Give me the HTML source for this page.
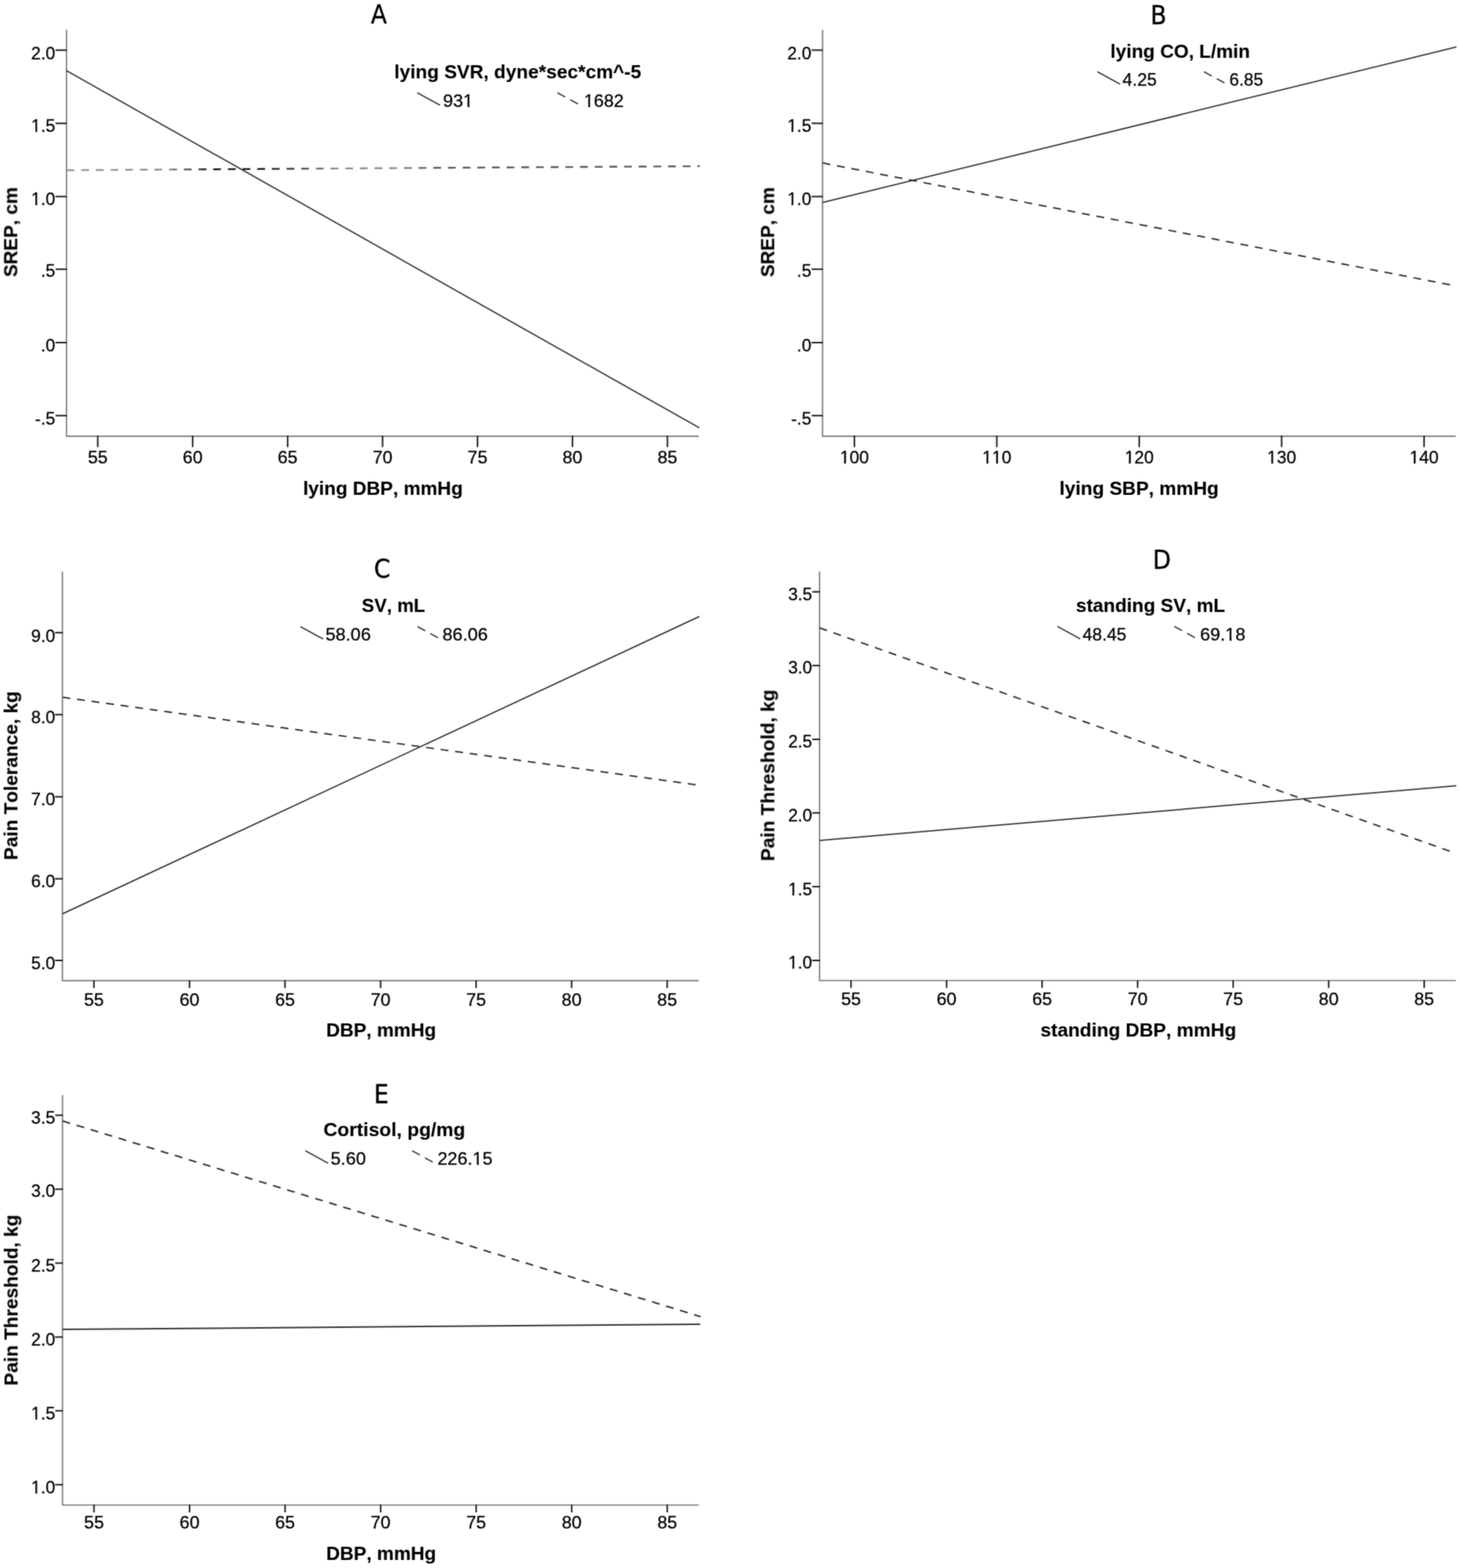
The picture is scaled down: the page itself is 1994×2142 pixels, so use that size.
<!DOCTYPE html>
<html lang="en">
<head>
<meta charset="utf-8">
<title>Interaction plots A-E</title>
<style>
html,body{margin:0;padding:0;background:#fff;}
body{width:1994px;height:2142px;overflow:hidden;}
svg{display:block;}
svg text{font-family:"Liberation Sans",Arial,Helvetica,sans-serif;fill:#000;font-kerning:none;stroke:#000;stroke-width:.32px;stroke-linejoin:round;}
svg text[font-weight]{stroke-width:.15px;}
svg text.ttl{font-family:"DejaVu Sans Condensed","Liberation Sans",sans-serif;stroke:#000;stroke-width:.4px;}
</style>
</head>
<body>
<svg width="1994" height="2142" viewBox="0 0 1994 2142">
<rect width="1994" height="2142" fill="#fff"/>
<defs>
<filter id="soft" filterUnits="userSpaceOnUse" x="0" y="0" width="1994" height="2142" color-interpolation-filters="sRGB">
<feConvolveMatrix order="3" kernelMatrix="0.03 0.12 0.03 0.12 0.4 0.12 0.03 0.12 0.03" edgeMode="duplicate" preserveAlpha="false"/>
</filter>
<linearGradient id="ga" gradientUnits="userSpaceOnUse" x1="90" y1="0" x2="955" y2="0"><stop offset="0" stop-color="#959595"/><stop offset=".15" stop-color="#8e8e8e"/><stop offset=".185" stop-color="#666"/><stop offset=".21" stop-color="#2a2a2a"/><stop offset=".23" stop-color="#161616"/><stop offset=".31" stop-color="#161616"/><stop offset=".36" stop-color="#3a3a3a"/><stop offset=".39" stop-color="#5a5a5a"/><stop offset=".42" stop-color="#8a8a8a"/><stop offset=".53" stop-color="#8a8a8a"/><stop offset=".57" stop-color="#5a5a5a"/><stop offset="1" stop-color="#555"/></linearGradient>
<clipPath id="c0"><path clip-rule="evenodd" d="M-4 -24.8H38.47V8H-4ZM0.09 -2.4H6.04V3H0.09ZM8.63 -2.4H14.38V3H8.63Z"/></clipPath>
<clipPath id="c1"><path clip-rule="evenodd" d="M-4 -24.8H45.37V8H-4ZM27.67 -2.4H33.62V3H27.67ZM36.21 -2.4H41.96V3H36.21Z"/></clipPath>
<clipPath id="c2"><path clip-rule="evenodd" d="M-4 -24.8H59.16V8H-4ZM0.09 -2.4H6.04V3H0.09ZM8.63 -2.4H14.38V3H8.63Z"/></clipPath>
<clipPath id="c3"><path clip-rule="evenodd" d="M-4 -24.8H45.37V8H-4ZM0.09 -2.4H6.04V3H0.09ZM8.63 -2.4H14.38V3H8.63Z"/></clipPath>
<clipPath id="c4"><path clip-rule="evenodd" d="M-4 -24.8H45.37V8H-4ZM0.09 -2.4H6.04V3H0.09ZM8.63 -2.4H14.38V3H8.63ZM14.38 -2.4H19.83V3H14.38ZM22.42 -2.4H28.17V3H22.42Z"/></clipPath>
<clipPath id="c5"><path clip-rule="evenodd" d="M-4 -24.8H66.05V8H-4ZM34.56 -2.4H40.51V3H34.56ZM43.1 -2.4H48.85V3H43.1Z"/></clipPath>
<clipPath id="c6"><path clip-rule="evenodd" d="M-4 -24.8H79.84V8H-4ZM48.35 -2.4H54.3V3H48.35ZM56.89 -2.4H62.64V3H56.89Z"/></clipPath>
</defs>
<g filter="url(#soft)">
<g>
<path d="M90.8 40.8V595.8H954.5" fill="none" stroke="#707070" stroke-width="1.7"/>
<path d="M91.3 68.45h-15.4M91.3 168.45h-15.4M91.3 268.45h-15.4M91.3 367.75h-15.4M91.3 467.9h-15.4M91.3 567.75h-15.4M133.5 595.3v15.4M263.17 595.3v15.4M392.84 595.3v15.4M522.51 595.3v15.4M652.18 595.3v15.4M781.85 595.3v15.4M911.52 595.3v15.4" fill="none" stroke="#161616" stroke-width="2"/>
<text transform="translate(42.58 81.25) scale(0.9550 1)" font-size="24.8">2.0</text>
<text transform="translate(42.58 179.65) scale(0.9550 1)" font-size="24.8" clip-path="url(#c0)">1.5</text>
<text transform="translate(42.58 280.35) scale(0.9550 1)" font-size="24.8" clip-path="url(#c0)">1.0</text>
<text transform="translate(55.75 378.45) scale(0.9550 1)" font-size="24.8">.5</text>
<text transform="translate(55.75 479.65) scale(0.9550 1)" font-size="24.8">.0</text>
<text transform="translate(47.86 579.85) scale(0.9550 1)" font-size="24.8">-.5</text>
<text transform="translate(119.92 633.25) scale(0.9850 1)" font-size="24.8">55</text>
<text transform="translate(249.59 633.25) scale(0.9850 1)" font-size="24.8">60</text>
<text transform="translate(379.26 633.25) scale(0.9850 1)" font-size="24.8">65</text>
<text transform="translate(508.93 633.25) scale(0.9850 1)" font-size="24.8">70</text>
<text transform="translate(638.6 633.25) scale(0.9850 1)" font-size="24.8">75</text>
<text transform="translate(768.27 633.25) scale(0.9850 1)" font-size="24.8">80</text>
<text transform="translate(897.94 633.25) scale(0.9850 1)" font-size="24.8">85</text>
<line x1="90.8" y1="96.5" x2="955.3" y2="584.6" stroke="#303030" stroke-width="1.75"/>
<line x1="90.8" y1="232.5" x2="955.6" y2="227" stroke="url(#ga)" stroke-width="2.4" stroke-dasharray="10.6 9.44"/>
<text x="506.6" y="31.9" font-size="35.6" class="ttl">A</text>
<text transform="translate(538.5 107.15) scale(1.0044 1)" font-size="26" font-weight="bold">lying SVR, dyne*sec*cm^-5</text>
<line x1="569.9" y1="126.7" x2="601" y2="143.7" stroke="#303030" stroke-width="1.7"/>
<text transform="translate(605 145.85)" font-size="24.8" clip-path="url(#c1)">931</text>
<line x1="761.3" y1="126.7" x2="792.4" y2="143.7" stroke="#303030" stroke-width="1.7" stroke-dasharray="12 8"/>
<text transform="translate(797.51 145.85) scale(0.9874 1)" font-size="24.8" clip-path="url(#c2)">1682</text>
<text transform="translate(413.9 675.85)" font-size="26" font-weight="bold">lying DBP, mmHg</text>
<text transform="translate(23.55 378.5) rotate(-90)" font-size="26" font-weight="bold">SREP, cm</text>
</g>
<g>
<path d="M1123.4 40.8V595.8H1988.2" fill="none" stroke="#707070" stroke-width="1.7"/>
<path d="M1123.9 68.45h-15.4M1123.9 168.45h-15.4M1123.9 268.45h-15.4M1123.9 367.75h-15.4M1123.9 467.9h-15.4M1123.9 567.75h-15.4M1166.9 595.3v15.4M1361.4 595.3v15.4M1555.9 595.3v15.4M1750.4 595.3v15.4M1944.9 595.3v15.4" fill="none" stroke="#161616" stroke-width="2"/>
<text transform="translate(1075.18 81.25) scale(0.9550 1)" font-size="24.8">2.0</text>
<text transform="translate(1075.18 179.65) scale(0.9550 1)" font-size="24.8" clip-path="url(#c0)">1.5</text>
<text transform="translate(1075.18 280.35) scale(0.9550 1)" font-size="24.8" clip-path="url(#c0)">1.0</text>
<text transform="translate(1088.35 378.45) scale(0.9550 1)" font-size="24.8">.5</text>
<text transform="translate(1088.35 479.65) scale(0.9550 1)" font-size="24.8">.0</text>
<text transform="translate(1080.46 579.85) scale(0.9550 1)" font-size="24.8">-.5</text>
<text transform="translate(1146.94 633.25) scale(0.9650 1)" font-size="24.8" clip-path="url(#c3)">100</text>
<text transform="translate(1341.44 633.25) scale(0.9650 1)" font-size="24.8" clip-path="url(#c4)">110</text>
<text transform="translate(1535.94 633.25) scale(0.9650 1)" font-size="24.8" clip-path="url(#c3)">120</text>
<text transform="translate(1730.44 633.25) scale(0.9650 1)" font-size="24.8" clip-path="url(#c3)">130</text>
<text transform="translate(1924.94 633.25) scale(0.9650 1)" font-size="24.8" clip-path="url(#c3)">140</text>
<line x1="1123.4" y1="276.6" x2="1989.1" y2="64.2" stroke="#303030" stroke-width="1.75"/>
<line x1="1123.4" y1="222.6" x2="1988.2" y2="390.6" stroke="#303030" stroke-width="2.0" stroke-dasharray="10.8 9.25"/>
<text x="1571.2" y="33" font-size="35.6" class="ttl">B</text>
<text transform="translate(1516.5 78.95)" font-size="26" font-weight="bold">lying CO, L/min</text>
<line x1="1498.8" y1="98" x2="1529.9" y2="115" stroke="#303030" stroke-width="1.7"/>
<text transform="translate(1533.1 116.95) scale(0.9711 1)" font-size="24.8">4.25</text>
<line x1="1644.3" y1="98" x2="1675.4" y2="115" stroke="#303030" stroke-width="1.7" stroke-dasharray="12 8"/>
<text transform="translate(1678.94 116.95) scale(0.9576 1)" font-size="24.8">6.85</text>
<text transform="translate(1447 675.55) scale(1.0041 1)" font-size="26" font-weight="bold">lying SBP, mmHg</text>
<text transform="translate(1057.35 378.5) rotate(-90)" font-size="26" font-weight="bold">SREP, cm</text>
</g>
<g>
<path d="M85.3 781.1V1339.7H954.3" fill="none" stroke="#707070" stroke-width="1.7"/>
<path d="M85.8 864.2h-10.5M85.8 976.3h-10.5M85.8 1088.45h-10.5M85.8 1200.6h-10.5M85.8 1312h-10.5M128.3 1339.2v10.5M258.78 1339.2v10.5M389.26 1339.2v10.5M519.74 1339.2v10.5M650.22 1339.2v10.5M780.7 1339.2v10.5M911.18 1339.2v10.5" fill="none" stroke="#161616" stroke-width="2"/>
<text transform="translate(42.58 877.4) scale(0.9550 1)" font-size="24.8">9.0</text>
<text transform="translate(42.58 987.55) scale(0.9550 1)" font-size="24.8">8.0</text>
<text transform="translate(42.58 1099.95) scale(0.9550 1)" font-size="24.8">7.0</text>
<text transform="translate(42.58 1211.9) scale(0.9550 1)" font-size="24.8">6.0</text>
<text transform="translate(42.58 1323.85) scale(0.9550 1)" font-size="24.8">5.0</text>
<text transform="translate(114.72 1373.55) scale(0.9850 1)" font-size="24.8">55</text>
<text transform="translate(245.2 1373.55) scale(0.9850 1)" font-size="24.8">60</text>
<text transform="translate(375.68 1373.55) scale(0.9850 1)" font-size="24.8">65</text>
<text transform="translate(506.16 1373.55) scale(0.9850 1)" font-size="24.8">70</text>
<text transform="translate(636.64 1373.55) scale(0.9850 1)" font-size="24.8">75</text>
<text transform="translate(767.12 1373.55) scale(0.9850 1)" font-size="24.8">80</text>
<text transform="translate(897.6 1373.55) scale(0.9850 1)" font-size="24.8">85</text>
<line x1="85.3" y1="1248.4" x2="955.2" y2="842.1" stroke="#303030" stroke-width="1.75"/>
<line x1="85.3" y1="952.5" x2="954.3" y2="1072.6" stroke="#303030" stroke-width="2.0" stroke-dasharray="10.8 9.25"/>
<text x="510.8" y="789.3" font-size="35.6" class="ttl">C</text>
<text transform="translate(494.1 836.35) scale(0.9836 1)" font-size="26" font-weight="bold">SV, mL</text>
<line x1="410.3" y1="855.9" x2="441.4" y2="872.9" stroke="#303030" stroke-width="1.7"/>
<text transform="translate(444.4 875.05)" font-size="24.8">58.06</text>
<line x1="570.2" y1="855.9" x2="601.3" y2="872.9" stroke="#303030" stroke-width="1.7" stroke-dasharray="12 8"/>
<text transform="translate(604.3 875.05)" font-size="24.8">86.06</text>
<text transform="translate(445.4 1416.05)" font-size="26" font-weight="bold">DBP, mmHg</text>
<text transform="translate(23.85 1174.9) rotate(-90) scale(1.0050 1)" font-size="26" font-weight="bold">Pain Tolerance, kg</text>
</g>
<g>
<path d="M1119.35 781.1V1339.5H1988.4" fill="none" stroke="#707070" stroke-width="1.7"/>
<path d="M1119.85 808.55h-10.5M1119.85 909.24h-10.5M1119.85 1009.93h-10.5M1119.85 1110.62h-10.5M1119.85 1211.31h-10.5M1119.85 1312h-10.5M1162.3 1339v10.5M1292.77 1339v10.5M1423.24 1339v10.5M1553.71 1339v10.5M1684.18 1339v10.5M1814.65 1339v10.5M1945.12 1339v10.5" fill="none" stroke="#161616" stroke-width="2"/>
<text transform="translate(1076.38 820.2) scale(0.9550 1)" font-size="24.8">3.5</text>
<text transform="translate(1076.38 920.39) scale(0.9550 1)" font-size="24.8">3.0</text>
<text transform="translate(1076.38 1021.28) scale(0.9550 1)" font-size="24.8">2.5</text>
<text transform="translate(1076.38 1121.97) scale(0.9550 1)" font-size="24.8">2.0</text>
<text transform="translate(1076.38 1222.66) scale(0.9550 1)" font-size="24.8" clip-path="url(#c0)">1.5</text>
<text transform="translate(1076.38 1323.35) scale(0.9550 1)" font-size="24.8" clip-path="url(#c0)">1.0</text>
<text transform="translate(1148.72 1372.95) scale(0.9850 1)" font-size="24.8">55</text>
<text transform="translate(1279.19 1372.95) scale(0.9850 1)" font-size="24.8">60</text>
<text transform="translate(1409.66 1372.95) scale(0.9850 1)" font-size="24.8">65</text>
<text transform="translate(1540.13 1372.95) scale(0.9850 1)" font-size="24.8">70</text>
<text transform="translate(1670.6 1372.95) scale(0.9850 1)" font-size="24.8">75</text>
<text transform="translate(1801.07 1372.95) scale(0.9850 1)" font-size="24.8">80</text>
<text transform="translate(1931.54 1372.95) scale(0.9850 1)" font-size="24.8">85</text>
<line x1="1119.35" y1="1148.2" x2="1989.1" y2="1073.4" stroke="#303030" stroke-width="1.75"/>
<line x1="1119.35" y1="857.7" x2="1988.4" y2="1165.7" stroke="#303030" stroke-width="2.0" stroke-dasharray="10.8 9.25"/>
<text x="1574.4" y="776.7" font-size="35.6" class="ttl">D</text>
<text transform="translate(1469.5 836.15)" font-size="26" font-weight="bold">standing SV, mL</text>
<line x1="1444.2" y1="855.7" x2="1475.3" y2="872.7" stroke="#303030" stroke-width="1.7"/>
<text transform="translate(1478.5 875.25) scale(0.9663 1)" font-size="24.8">48.45</text>
<line x1="1603.8" y1="855.7" x2="1634.9" y2="872.7" stroke="#303030" stroke-width="1.7" stroke-dasharray="12 8"/>
<text transform="translate(1638.9 875.25)" font-size="24.8" clip-path="url(#c5)">69.18</text>
<text transform="translate(1421 1415.75) scale(1.0064 1)" font-size="26" font-weight="bold">standing DBP, mmHg</text>
<text transform="translate(1057.55 1176.31) rotate(-90) scale(1.0078 1)" font-size="26" font-weight="bold">Pain Threshold, kg</text>
</g>
<g>
<path d="M85.4 1495.9V2056H954.3" fill="none" stroke="#707070" stroke-width="1.7"/>
<path d="M85.9 1523.5h-10.5M85.9 1624.46h-10.5M85.9 1725.42h-10.5M85.9 1826.38h-10.5M85.9 1927.34h-10.5M85.9 2028.3h-10.5M128.4 2055.5v10.5M258.88 2055.5v10.5M389.36 2055.5v10.5M519.84 2055.5v10.5M650.32 2055.5v10.5M780.8 2055.5v10.5M911.28 2055.5v10.5" fill="none" stroke="#161616" stroke-width="2"/>
<text transform="translate(42.58 1534.85) scale(0.9550 1)" font-size="24.8">3.5</text>
<text transform="translate(42.58 1635.11) scale(0.9550 1)" font-size="24.8">3.0</text>
<text transform="translate(42.58 1736.77) scale(0.9550 1)" font-size="24.8">2.5</text>
<text transform="translate(42.58 1837.73) scale(0.9550 1)" font-size="24.8">2.0</text>
<text transform="translate(42.58 1938.69) scale(0.9550 1)" font-size="24.8" clip-path="url(#c0)">1.5</text>
<text transform="translate(42.58 2040.45) scale(0.9550 1)" font-size="24.8" clip-path="url(#c0)">1.0</text>
<text transform="translate(114.82 2088.45) scale(0.9850 1)" font-size="24.8">55</text>
<text transform="translate(245.3 2088.45) scale(0.9850 1)" font-size="24.8">60</text>
<text transform="translate(375.78 2088.45) scale(0.9850 1)" font-size="24.8">65</text>
<text transform="translate(506.26 2088.45) scale(0.9850 1)" font-size="24.8">70</text>
<text transform="translate(636.74 2088.45) scale(0.9850 1)" font-size="24.8">75</text>
<text transform="translate(767.22 2088.45) scale(0.9850 1)" font-size="24.8">80</text>
<text transform="translate(897.7 2088.45) scale(0.9850 1)" font-size="24.8">85</text>
<line x1="85.4" y1="1816.1" x2="956.3" y2="1809" stroke="#303030" stroke-width="2.0"/>
<line x1="85.4" y1="1531.3" x2="957" y2="1798.7" stroke="#303030" stroke-width="2.1" stroke-dasharray="10.8 9.25"/>
<text x="510.7" y="1507" font-size="35.6" class="ttl">E</text>
<text transform="translate(441.78 1552.35) scale(1.0165 1)" font-size="26" font-weight="bold">Cortisol, pg/mg</text>
<line x1="417" y1="1572.1" x2="448.1" y2="1589.1" stroke="#303030" stroke-width="1.7"/>
<text transform="translate(451.5 1590.65)" font-size="24.8">5.60</text>
<line x1="562.9" y1="1572.1" x2="594" y2="1589.1" stroke="#303030" stroke-width="1.7" stroke-dasharray="12 8"/>
<text transform="translate(597.41 1590.65) scale(0.9939 1)" font-size="24.8" clip-path="url(#c6)">226.15</text>
<text transform="translate(445.5 2131.15)" font-size="26" font-weight="bold">DBP, mmHg</text>
<text transform="translate(24.15 1892.8) rotate(-90) scale(1.0047 1)" font-size="26" font-weight="bold">Pain Threshold, kg</text>
</g>
</g>
</svg>
</body>
</html>
